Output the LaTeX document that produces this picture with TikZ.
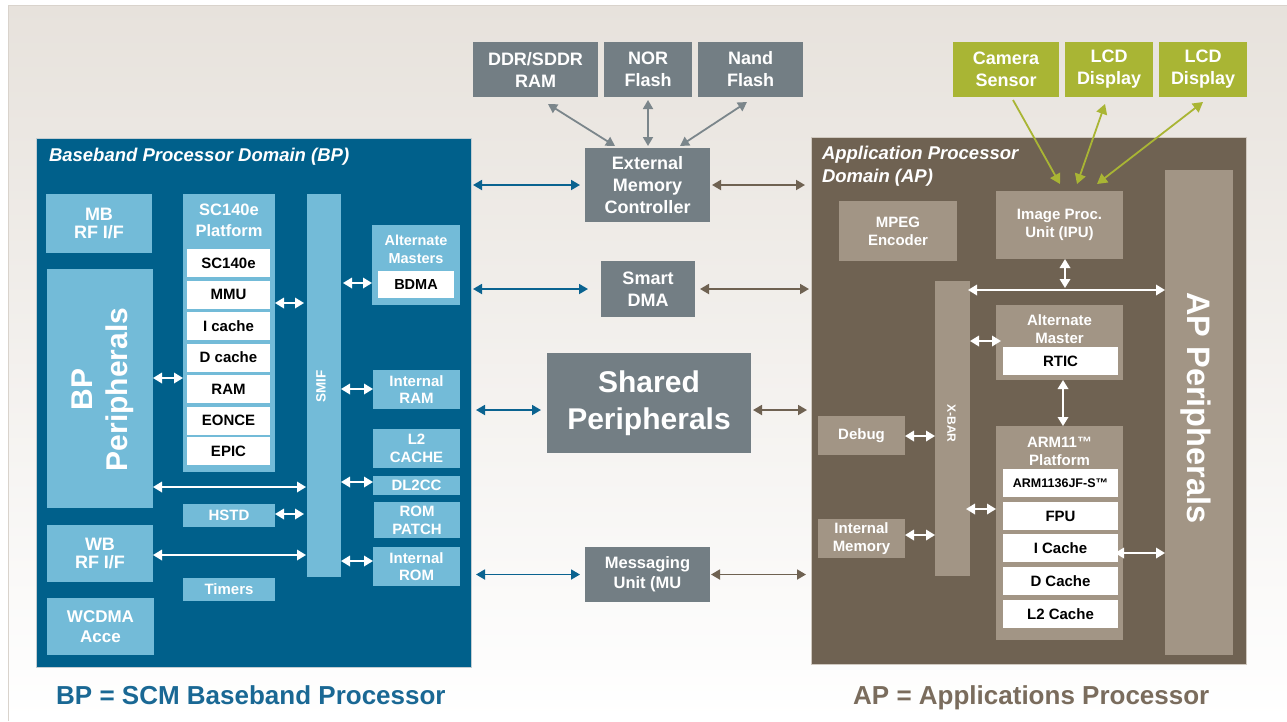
\documentclass[tikz,border=0pt]{standalone}
\usepackage{fontspec}
\setmainfont{Liberation Sans}
\usetikzlibrary{arrows.meta,calc}

\definecolor{bpdark}{HTML}{00608B}
\definecolor{bplight}{HTML}{73BBD8}
\definecolor{apdark}{HTML}{6F6252}
\definecolor{aplight}{HTML}{A29585}
\definecolor{slate}{HTML}{737E84}
\definecolor{olive}{HTML}{A9B534}
\definecolor{bgtop}{HTML}{E7E2DC}
\definecolor{bgline}{HTML}{D9D3CC}
\definecolor{bparrow}{HTML}{0A6390}
\definecolor{aparrow}{HTML}{6F6252}
\definecolor{memarrow}{HTML}{7B868B}
\definecolor{bptext}{HTML}{1A6894}
\definecolor{aptext}{HTML}{7A6C5D}
\definecolor{bpedge}{HTML}{C3CDD2}
\definecolor{apedge}{HTML}{CFC8BF}

% font sizes (1pt = 1 image pixel)
\newcommand\fsA{\bfseries\fontsize{15}{17.5}\selectfont}
\newcommand\fsAw{\bfseries\fontsize{15}{18}\selectfont}
\newcommand\fsB{\bfseries\fontsize{18}{22}\selectfont}
\newcommand\fsRF{\bfseries\fontsize{18}{18}\selectfont}
\newcommand\fsC{\bfseries\fontsize{16.5}{21}\selectfont}
\newcommand\fsMU{\bfseries\fontsize{16.5}{19.7}\selectfont}
\newcommand\fsBig{\bfseries\fontsize{30}{36.5}\selectfont}
\newcommand\fsTitle{\bfseries\itshape\fontsize{18.5}{23}\selectfont}
\newcommand\fsFoot{\bfseries\fontsize{26}{30}\selectfont}

\begin{document}
\begin{tikzpicture}[x=1pt,y=-1pt,
  box/.style={inner sep=0pt, outer sep=0pt, align=center, text=white, font=\fsA},
  sz/.style 2 args={minimum width=#1pt, minimum height=#2pt},
  lb/.style={box, fill=bplight},
  wb/.style={box, fill=white, text=black},
  tb/.style={box, fill=aplight},
  sb/.style={box, fill=slate},
  gb/.style={box, fill=olive},
  lbl/.style={inner sep=0pt, outer sep=0pt, align=center, text=white},
  wa/.style={draw=white, line width=1.8pt, <->, >={Triangle[length=9pt,width=10.5pt]}},
  ba/.style={draw=bparrow, line width=1.8pt, <->, >={Triangle[length=9pt,width=10pt]}},
  aa/.style={draw=aparrow, line width=1.8pt, <->, >={Triangle[length=9pt,width=10pt]}},
  ma/.style={draw=memarrow, line width=1.8pt, <->, >={Triangle[length=9pt,width=10pt]}},
  ga/.style={draw=olive, line width=1.8pt, >={Triangle[length=10pt,width=11pt]}}
]
\useasboundingbox (0,0) rectangle (1287,721);

% page background
\shade[top color=bgtop, bottom color=white] (8,5) rectangle (1287,721);
\draw[bgline, line width=1pt] (8.5,721) -- (8.5,5.5) -- (1287,5.5);

% ---------------- Baseband processor domain ----------------
\node[box, fill=bpdark, draw=bpedge, line width=1pt, sz={435}{529}] (bp) at (253.5,402.5) {};
\node[lbl, anchor=base west, font=\fsTitle] (bptitle) at (49,161) {Baseband Processor Domain (BP)};

\node[lb, sz={106}{59}, font=\fsRF] (mbrf) at (99,223.5) {MB\\RF I/F};
\node[lb, sz={106}{239}] (bpper) at (100,388.5) {};
\node[lbl, rotate=90, font=\bfseries\fontsize{30}{35}\selectfont] (bppertxt) at (102.5,389.5) {BP\\Peripherals};
\node[lb, sz={106}{57}, font=\fsRF] (wbrf) at (100,553.5) {WB\\RF I/F};
\node[lb, sz={107}{57}, font=\bfseries\fontsize{17}{20}\selectfont] (wcdma) at (100.5,626.5) {WCDMA\\Acce};

\node[lb, sz={92}{278}] (scplat) at (229,333) {};
\node[lbl, font=\fsC] (sctitle) at (229,220) {SC140e\\Platform};
\node[wb, sz={83}{28}] (sc140) at (228.5,263) {SC140e};
\node[wb, sz={83}{28}] (mmu) at (228.5,294.5) {MMU};
\node[wb, sz={83}{28}] (icache) at (228.5,326) {I cache};
\node[wb, sz={83}{28}] (dcache) at (228.5,357.5) {D cache};
\node[wb, sz={83}{28}] (ram) at (228.5,389) {RAM};
\node[wb, sz={83}{28}] (eonce) at (228.5,420.5) {EONCE};
\node[wb, sz={83}{28}] (epic) at (228.5,451) {EPIC};

\node[lb, sz={92}{23}] (hstd) at (229,515.5) {HSTD};
\node[lb, sz={92}{23}] (timers) at (229,589.5) {Timers};

\node[lb, sz={34}{383}] (smif) at (324,385.5) {};
\node[lbl, rotate=90, font=\bfseries\fontsize{13.5}{16}\selectfont] (smiftxt) at (321,386.5) {SMIF};

\node[lb, sz={88}{80}] (altm) at (416,265) {};
\node[lbl, font=\bfseries\fontsize{14.5}{18}\selectfont] (altmtxt) at (416,249) {Alternate\\Masters};
\node[wb, sz={76}{27}, font=\bfseries\fontsize{14.5}{17}\selectfont] (bdma) at (416,284.5) {BDMA};

\node[lb, sz={87}{39}] (iram) at (416.5,389.5) {Internal\\RAM};
\node[lb, sz={87}{39}, font=\fsAw] (l2) at (416.5,448.5) {L2\\CACHE};
\node[lb, sz={87}{19}] (dl2cc) at (416.5,485.5) {DL2CC};
\node[lb, sz={86}{36}, font=\fsAw] (rompatch) at (417,520) {ROM\\PATCH};
\node[lb, sz={87}{39}] (irom) at (416.5,566.5) {Internal\\ROM};

% BP internal links
\draw[wa] (bpper.east |- 0,378) -- (scplat.west |- 0,378);
\draw[wa, shorten >=3pt] (scplat.east |- 0,303) -- (smif.west |- 0,303);
\draw[wa, shorten <=2pt] (smif.east |- 0,283) -- (altm.west |- 0,283);
\draw[wa] (smif.east |- 0,389) -- (iram.west |- 0,389);
\draw[wa, shorten >=1pt] (bpper.east |- 0,487) -- (smif.west |- 0,487);
\draw[wa, shorten >=3pt] (hstd.east |- 0,514) -- (smif.west |- 0,514);
\draw[wa, shorten >=1pt] (wbrf.east |- 0,555) -- (smif.west |- 0,555);
\draw[wa] (smif.east |- 0,482) -- (dl2cc.west |- 0,482);
\draw[wa] (smif.east |- 0,561) -- (irom.west |- 0,561);

% ---------------- shared resources ----------------
\node[sb, sz={125}{55}, font=\fsB] (ddr) at (535.5,69.5) {DDR/SDDR\\RAM};
\node[sb, sz={88}{55}, font=\fsB] (nor) at (648,69.5) {NOR\\Flash};
\node[sb, sz={105}{55}, font=\fsB] (nand) at (750.5,69.5) {Nand\\Flash};
\node[sb, sz={125}{74}, font=\fsB] (emc) at (647.5,185) {External\\Memory\\Controller};
\node[sb, sz={94}{56}, font=\fsB] (sdma) at (648,289) {Smart\\DMA};
\node[sb, sz={204}{100}, font=\fsBig] (shared) at (649,403) {Shared\\Peripherals};
\node[sb, sz={125}{55}, font=\fsMU] (mu) at (647.5,574.5) {Messaging\\Unit (MU};

\draw[ma] ($(ddr.south)+(12.5,7)$) -- ($(emc.north)+(-32.5,-2)$);
\draw[ma] ($(nor.south)+(0,3)$) -- ($(emc.north)+(0.5,-2)$);
\draw[ma] ($(nand.south)+(-3.5,5)$) -- ($(emc.north)+(32.5,-2)$);

% ---------------- application processor domain ----------------
\node[box, fill=apdark, draw=apedge, line width=1pt, sz={435}{527}] (ap) at (1028.5,400.5) {};
\node[lbl, anchor=base west, font=\fsTitle] (aptitlea) at (822,159) {Application Processor};
\node[lbl, anchor=base west, font=\fsTitle] (aptitleb) at (822,182) {Domain (AP)};

\node[tb, sz={118}{60}, font=\fsAw] (mpeg) at (898,231) {MPEG\\Encoder};
\node[tb, sz={127}{68}, font=\fsAw] (ipu) at (1059.5,225) {Image Proc.\\Unit (IPU)};
\node[tb, sz={68}{485}] (apper) at (1199,412.5) {};
\node[lbl, rotate=-90, font=\bfseries\fontsize{32.5}{38}\selectfont] (appertxt) at (1196,408) {AP Peripherals};
\node[tb, sz={35}{295}] (xbar) at (952.5,428.5) {};
\node[lbl, rotate=-90, font=\bfseries\fontsize{12}{14}\selectfont] (xbartxt) at (951.5,423.5) {X-BAR};

\node[tb, sz={127}{75}] (altm2) at (1059.5,342.5) {};
\node[lbl, font=\fsAw] (altm2txt) at (1059.5,329) {Alternate\\Master};
\node[wb, sz={115}{28}] (rtic) at (1060.5,361) {RTIC};

\node[tb, sz={127}{214}] (arm) at (1059.5,533) {};
\node[lbl, font=\fsAw] (armtxt) at (1059.5,451) {ARM11™\\Platform};
\node[wb, sz={115}{28}, font=\bfseries\fontsize{12.5}{15}\selectfont] (arm1136) at (1060.5,483) {ARM1136JF-S™};
\node[wb, sz={115}{28}] (fpu) at (1060.5,516) {FPU};
\node[wb, sz={115}{28}] (icache2) at (1060.5,548) {I Cache};
\node[wb, sz={115}{28}] (dcache2) at (1060.5,581) {D Cache};
\node[wb, sz={115}{28}] (l2c) at (1060.5,614) {L2 Cache};

\node[tb, sz={87}{39}] (debug) at (861.5,435.5) {Debug};
\node[tb, sz={87}{39}, font=\fsAw] (imem) at (861.5,538.5) {Internal\\Memory};

% AP internal links
\draw[wa] ([xshift=5.5pt]ipu.south) -- ([xshift=5.5pt]ipu.south |- 0,288);
\draw[wa, shorten <=-2pt] (xbar.east |- 0,290) -- (apper.west |- 0,290);
\draw[wa] (xbar.east |- 0,341) -- ([xshift=5pt]altm2.west |- 0,341);
\draw[wa] ([xshift=3.5pt]altm2.south) -- ([xshift=3.5pt]arm.north);
\draw[wa] (debug.east |- 0,436) -- (xbar.west |- 0,436);
\draw[wa] (imem.east |- 0,535) -- (xbar.west |- 0,535);
\draw[wa, shorten <=-4pt] (xbar.east |- 0,509) -- (arm.west |- 0,509);
\draw[wa, shorten <=-3pt] (icache2.east |- 0,553) -- (apper.west |- 0,553);

% ---------------- external AP devices ----------------
\node[gb, sz={106}{55}, font=\fsB] (cam) at (1006,69.5) {Camera\\Sensor};
\node[gb, sz={88}{55}, font=\fsB] (lcda) at (1109,69.5) {LCD\\Display};
\node[gb, sz={88}{55}, font=\fsB] (lcdb) at (1203,69.5) {LCD\\Display};

\draw[ga, ->] ($(cam.south)+(7,3)$) -- ($(ipu.north)+(0.5,-7)$);
\draw[ga, <->] ($(ipu.north)+(17.5,-7)$) -- ($(lcda.south)+(-4,7)$);
\draw[ga, <->] ($(ipu.north)+(37.5,-7)$) -- ($(lcdb.south)+(0,5)$);

% ---------------- domain to shared links ----------------
\draw[ba, shorten <=2pt, shorten >=5pt] (bp.east |- emc) -- (emc.west);
\draw[ba, shorten <=2pt, shorten >=13pt] (bp.east |- sdma) -- (sdma.west);
\draw[ba, shorten <=5pt, shorten >=6pt] (bp.east |- 0,410) -- (shared.west |- 0,410);
\draw[ba, shorten <=5pt, shorten >=5pt] (bp.east |- mu) -- (mu.west);

\draw[aa, shorten <=2pt, shorten >=6pt] (emc.east) -- (ap.west |- emc);
\draw[aa, shorten <=5pt, shorten >=2pt] (sdma.east) -- (ap.west |- sdma);
\draw[aa, shorten <=2pt, shorten >=4pt] (shared.east |- 0,410) -- (ap.west |- 0,410);
\draw[aa, shorten <=1pt, shorten >=5pt] (mu.east) -- (ap.west |- mu);

% ---------------- legends ----------------
\node[anchor=base west, inner sep=0pt, font=\fsFoot, text=bptext] (bpfoot) at (56,704) {BP = SCM Baseband Processor};
\node[anchor=base west, inner sep=0pt, font=\fsFoot, text=aptext] (apfoot) at (853,704) {AP = Applications Processor};
\end{tikzpicture}
\end{document}
